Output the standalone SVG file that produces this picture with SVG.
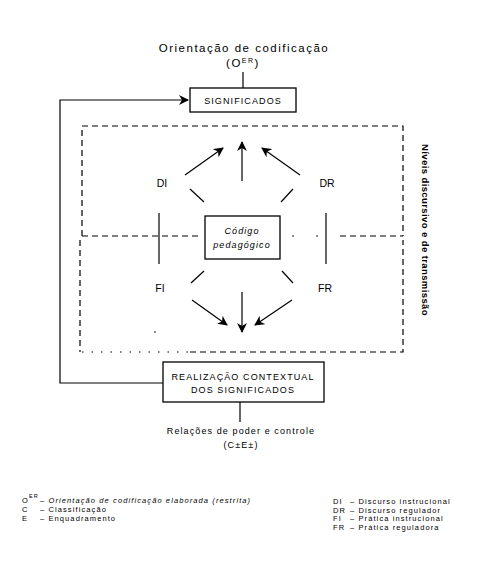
<svg xmlns="http://www.w3.org/2000/svg" width="492" height="584" viewBox="0 0 492 584">
<defs>
<marker id="ah" viewBox="0 0 10 10" refX="9" refY="5" markerWidth="10" markerHeight="10" orient="auto" markerUnits="userSpaceOnUse">
<path d="M0,0 L10,5 L0,10 L3,5 Z" fill="#000"/>
</marker>
<style>
text{font-family:"Liberation Sans",Arial,sans-serif;fill:#000}
.t{font-size:11.5px;letter-spacing:1.5px}
.b{font-size:9px;letter-spacing:1.1px}
.l{font-size:10.5px}
.s{font-size:7.5px;letter-spacing:1.1px}
.ln{stroke:#000;stroke-width:1.2;fill:none}
.box{stroke:#000;stroke-width:1.3;fill:#fff}
.dash{stroke:#000;stroke-width:1.2;fill:none;stroke-dasharray:6,4}
.dot{stroke:#000;stroke-width:1.2;fill:none;stroke-dasharray:1.5,8}
</style>
</defs>
<rect width="492" height="584" fill="#fff"/>
<g id="title">
<text class="t" x="244" y="52" text-anchor="middle">Orientação de codificação</text>
<text class="t" x="243" y="67" text-anchor="middle">(O<tspan font-size="7" dy="-4">ER</tspan><tspan dy="4">)</tspan></text>
</g>
<g id="frame">
<path class="dash" d="M82,236 V126 H403 V236"/>
<path class="dash" d="M80,240 V352"/>
<path class="dot" d="M82,352 H190"/>
<path class="dash" d="M190,352 H403 V240"/>
<path class="dash" d="M82,236 H200"/>
<path class="dash" d="M340,236 H403"/>
<circle cx="293" cy="236" r="0.8"/>
<circle cx="317" cy="236" r="0.8"/>
<circle cx="155" cy="332" r="0.8"/>
<text font-size="9.5" font-weight="bold" letter-spacing="0.4" transform="translate(422,230) rotate(90)" text-anchor="middle">Níveis discursivo e de transmissão</text>
</g>
<g id="connectors">
<line class="ln" x1="243" y1="72" x2="243" y2="88"/>
<path class="ln" d="M163,383 H60 V100 H188" marker-end="url(#ah)"/>
<line class="ln" x1="240" y1="402" x2="240" y2="422"/>
<line class="ln" x1="242" y1="181" x2="242" y2="142" marker-end="url(#ah)"/>
<line class="ln" x1="185" y1="175" x2="223" y2="148" marker-end="url(#ah)"/>
<line class="ln" x1="300" y1="175" x2="262" y2="148" marker-end="url(#ah)"/>
<line class="ln" x1="190" y1="189" x2="204" y2="202"/>
<line class="ln" x1="293" y1="189" x2="281" y2="202"/>
<line class="ln" x1="159" y1="213" x2="159" y2="264"/>
<line class="ln" x1="326" y1="213" x2="326" y2="264"/>
<line class="ln" x1="204" y1="271" x2="191" y2="283"/>
<line class="ln" x1="282" y1="271" x2="293" y2="283"/>
<line class="ln" x1="242" y1="292" x2="242" y2="332" marker-end="url(#ah)"/>
<line class="ln" x1="192" y1="300" x2="227" y2="325" marker-end="url(#ah)"/>
<line class="ln" x1="292" y1="300" x2="255" y2="325" marker-end="url(#ah)"/>
</g>
<g id="significados">
<rect class="box" x="190" y="88" width="106" height="24"/>
<text class="b" x="243" y="104" text-anchor="middle" letter-spacing="1.5">SIGNIFICADOS</text>
</g>
<g id="codigo">
<rect class="box" x="205" y="216" width="75" height="43"/>
<text class="b" x="242" y="234" text-anchor="middle" font-style="italic">Código</text>
<text class="b" x="242" y="248" text-anchor="middle" font-style="italic">pedagógico</text>
</g>
<g id="di"><text class="l" x="162" y="187" text-anchor="middle">DI</text></g>
<g id="dr"><text class="l" x="327" y="187" text-anchor="middle">DR</text></g>
<g id="fi"><text class="l" x="160" y="292" text-anchor="middle">FI</text></g>
<g id="fr"><text class="l" x="325" y="292" text-anchor="middle">FR</text></g>
<g id="realizacao">
<rect class="box" x="163" y="362" width="161" height="40"/>
<text class="b" x="243" y="380" text-anchor="middle">REALIZAÇÃO CONTEXTUAL</text>
<text class="b" x="243" y="393" text-anchor="middle">DOS SIGNIFICADOS</text>
</g>
<g id="relacoes">
<text class="b" x="241" y="434" text-anchor="middle">Relações de poder e controle</text>
<text class="b" x="241" y="448" text-anchor="middle">(C±E±)</text>
</g>
<g id="legend">
<text class="s" x="22" y="503">O<tspan font-size="5.5" dy="-5">ER</tspan></text>
<text class="s" x="40" y="503" font-style="italic">– Orientação de codificação elaborada (restrita)</text>
<text class="s" x="22" y="512">C</text>
<text class="s" x="40" y="512">– Classificação</text>
<text class="s" x="22" y="521">E</text>
<text class="s" x="40" y="521">– Enquadramento</text>
<text class="s" x="333" y="504">DI</text>
<text class="s" x="350" y="504">– Discurso instrucional</text>
<text class="s" x="333" y="512.5">DR</text>
<text class="s" x="350" y="512.5">– Discurso regulador</text>
<text class="s" x="333" y="521">FI</text>
<text class="s" x="350" y="521">– Prática instrucional</text>
<text class="s" x="333" y="529.5">FR</text>
<text class="s" x="350" y="529.5">– Prática reguladora</text>
</g>
</svg>
